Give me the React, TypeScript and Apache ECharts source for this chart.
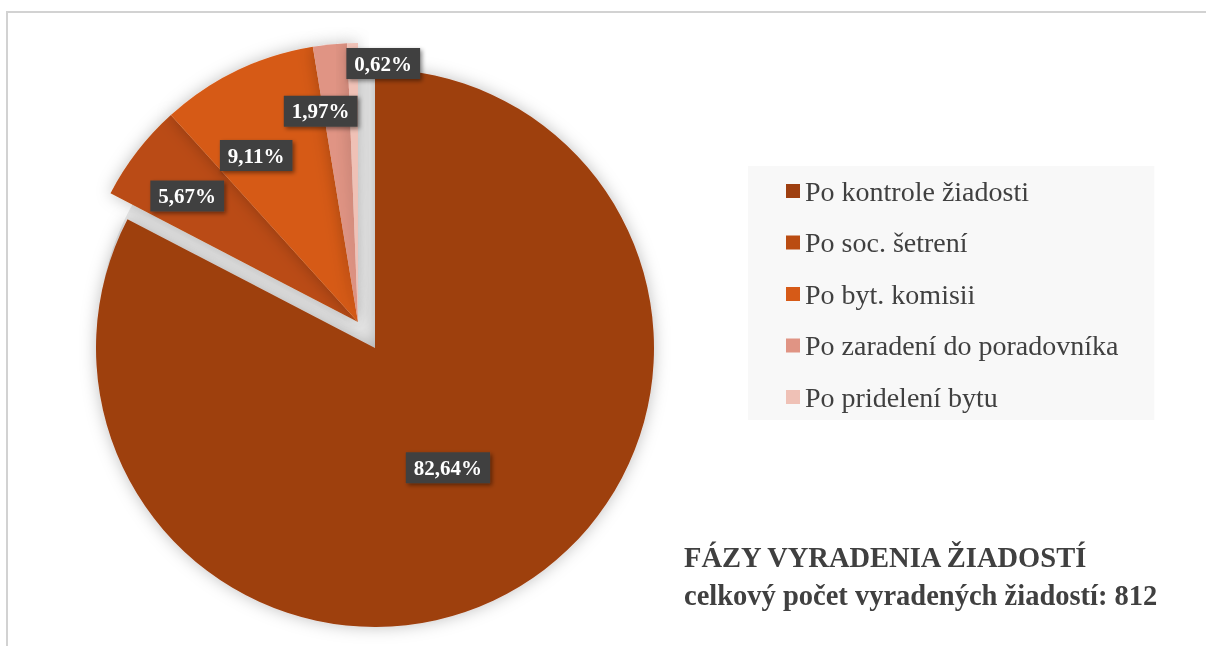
import React, { useEffect, useRef } from "react";
import * as echarts from "echarts";

const categories = [
  "Po kontrole žiadosti",
  "Po soc. šetrení",
  "Po byt. komisii",
  "Po zaradení do poradovníka",
  "Po pridelení bytu",
];
const counts = [671, 46, 74, 16, 5];
const colors = ["#9E3F10", "#BA4C12", "#D65A17", "#E09484", "#EFC1B6"];
const titleText = "FÁZY VYRADENIA ŽIADOSTÍ";
const subtitlePrefix = "celkový počet vyradených žiadostí: ";

// which items are drawn in the main (un-exploded) piece
const mainGroup = [true, false, false, false, false];
// label nudges (dx, dy) relative to the default inside position
const labelShift: [number, number][] = [
  [-1, -2],
  [-58, -39],
  [-40, -38],
  [-23, -69],
  [28, -116],
];

const SERIF = "'Liberation Serif', 'Times New Roman', serif";

export default function App() {
  const ref = useRef<HTMLDivElement>(null);
  useEffect(() => {
    document.body.style.margin = "0";
    const chart = echarts.init(ref.current!, null, { renderer: "svg" });
    const total = counts.reduce((a, b) => a + b, 0);

    const labelBase = {
      position: "inside",
      formatter: (p: any) =>
        ((p.value / total) * 100).toFixed(2).replace(".", ",") + "%",
      color: "#ffffff",
      fontFamily: SERIF,
      fontWeight: "bold",
      fontSize: 21,
      lineHeight: 23,
      backgroundColor: "#404040",
      padding: [4, 8, 4, 8],
      shadowColor: "rgba(0,0,0,0.45)",
      shadowBlur: 4,
      shadowOffsetX: 2,
      shadowOffsetY: 2,
    };

    const makeSeries = (inMain: boolean, center: number[]) => ({
      type: "pie",
      center,
      radius: 279,
      startAngle: 90,
      clockwise: true,
      avoidLabelOverlap: false,
      silent: true,
      z: 2,
      label: labelBase,
      labelLine: { show: false },
      labelLayout: (params: any) => {
        const s = labelShift[params.dataIndex];
        return { dx: s[0], dy: s[1] };
      },
      data: categories.map((name, i) => {
        const visible = mainGroup[i] === inMain;
        return {
          name,
          value: counts[i],
          itemStyle: visible
            ? {
                color: colors[i],
                shadowBlur: 16,
                shadowColor: "rgba(0,0,0,0.25)",
              }
            : { color: "rgba(0,0,0,0)", shadowBlur: 0, shadowColor: "rgba(0,0,0,0)" },
          label: { show: visible },
        };
      }),
    });

    // grey underlay showing through the gap between the two pieces
    const underlay = {
      type: "pie",
      center: [366.5, 335],
      radius: 268,
      silent: true,
      z: 1,
      label: { show: false },
      labelLine: { show: false },
      data: [{ name: "", value: total, itemStyle: { color: "#e9e9e9" } }],
    };

    chart.setOption({
      animation: false,
      title: {
        text: titleText,
        subtext: subtitlePrefix + total,
        left: 684,
        top: 538,
        padding: 0,
        itemGap: 0,
        textStyle: {
          fontFamily: SERIF,
          fontWeight: "bold",
          fontSize: 28.5,
          lineHeight: 38,
          color: "#404040",
        },
        subtextStyle: {
          fontFamily: SERIF,
          fontWeight: "bold",
          fontSize: 28.5,
          lineHeight: 38,
          color: "#404040",
        },
      },
      legend: {
        orient: "vertical",
        left: 748,
        top: 166,
        padding: [10, 36, 8, 38],
        backgroundColor: "#f8f8f8",
        icon: "rect",
        itemWidth: 14,
        itemHeight: 14,
        itemGap: 21.5,
        selectedMode: false,
        textStyle: {
          fontFamily: SERIF,
          fontSize: 28,
          lineHeight: 30,
          color: "#404040",
        },
        data: categories.map((name, i) => ({
          name,
          itemStyle: { color: colors[i] },
        })),
      },
      graphic: [
        {
          type: "rect",
          shape: { x: 7, y: 12, width: 1300, height: 800 },
          style: { fill: "none", stroke: "#d2d2d2", lineWidth: 2 },
          silent: true,
          z: -10,
        },
      ],
      series: [
        underlay,
        makeSeries(true, [375, 348]),
        makeSeries(false, [358, 322]),
      ],
    });
    return () => chart.dispose();
  }, []);
  return (
    <div
      ref={ref}
      style={{ position: "fixed", left: 0, top: 0, width: 1206, height: 646 }}
    />
  );
}
